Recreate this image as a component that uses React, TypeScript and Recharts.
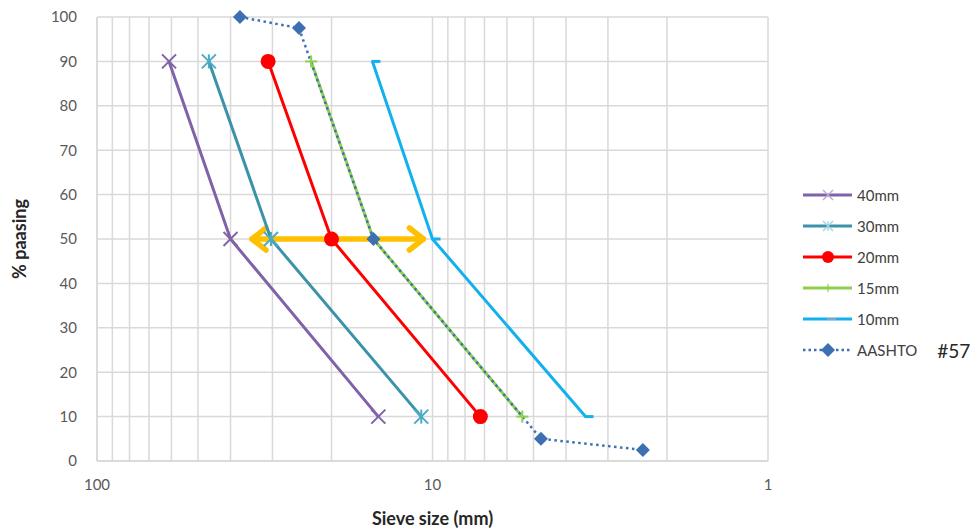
import React from 'react'
import { ComposedChart, Line, XAxis, YAxis, CartesianGrid, ReferenceLine } from 'recharts'

// sieve sizes (mm) and % passing
const sizes40 = [61, 40, 14.5]
const pass40 = [90, 50, 10]
const sizes30 = [46.4, 30.3, 10.8]
const pass30 = [90, 50, 10]
const sizes20 = [30.9, 20, 7.2]
const pass20 = [90, 50, 10]
const sizes15 = [23, 15, 5.4]
const pass15 = [90, 50, 10]
const sizes10 = [15.1, 10, 3.5]
const pass10 = [90, 50, 10]
const sizesAashto = [37.5, 25, 15, 4.75, 2.36]
const passAashto = [100, 97.5, 50, 5, 2.5]

// orange arrow: from ~35mm to ~10.5mm at 50% passing
const arrowSizes = [35, 10.5]
const arrowPass = 50

const xTicks = [1, 2, 3, 4, 5, 6, 7, 8, 9, 10, 20, 30, 40, 50, 60, 70, 80, 90, 100]
const yTicks = [0, 10, 20, 30, 40, 50, 60, 70, 80, 90, 100]

const toRows = (xs: number[], ys: number[]) => xs.map((x, i) => ({ x, y: ys[i] }))

type MarkerKind = 'x' | 'star' | 'circle' | 'plus' | 'dash' | 'diamond'

const series: { name: string; color: string; marker: MarkerKind; dashed?: boolean; data: { x: number; y: number }[] }[] = [
  { name: '40mm', color: '#7f62a8', marker: 'x', data: toRows(sizes40, pass40) },
  { name: '30mm', color: '#3a93a8', marker: 'star', data: toRows(sizes30, pass30) },
  { name: '20mm', color: '#ff0000', marker: 'circle', data: toRows(sizes20, pass20) },
  { name: '15mm', color: '#8fce4e', marker: 'plus', data: toRows(sizes15, pass15) },
  { name: '10mm', color: '#13b0ee', marker: 'dash', data: toRows(sizes10, pass10) },
  { name: 'AASHTO', color: '#3d6fb3', marker: 'diamond', dashed: true, data: toRows(sizesAashto, passAashto) },
]

function Marker({ kind, cx, cy, color, legend }: { kind: MarkerKind; cx: number; cy: number; color: string; legend?: boolean }) {
  const s = legend ? 5 : 7
  const sw = legend ? 1.2 : 2
  switch (kind) {
    case 'x':
      return (
        <g stroke={legend ? '#b7a6d0' : color} strokeWidth={sw}>
          <line x1={cx - s} y1={cy - s} x2={cx + s} y2={cy + s} />
          <line x1={cx - s} y1={cy + s} x2={cx + s} y2={cy - s} />
        </g>
      )
    case 'star':
      return (
        <g stroke={legend ? '#9fd3e0' : '#4aacc6'} strokeWidth={sw}>
          <line x1={cx - s} y1={cy - s} x2={cx + s} y2={cy + s} />
          <line x1={cx - s} y1={cy + s} x2={cx + s} y2={cy - s} />
          <line x1={cx} y1={cy - s} x2={cx} y2={cy + s} />
        </g>
      )
    case 'circle':
      return <circle cx={cx} cy={cy} r={legend ? 6 : 7.5} fill={color} />
    case 'plus':
      return (
        <g stroke={color} strokeWidth={sw}>
          <line x1={cx} y1={cy - s + 1} x2={cx} y2={cy + s - 1} />
          <line x1={cx - s + 1} y1={cy} x2={cx + s - 1} y2={cy} />
        </g>
      )
    case 'dash':
      return <line x1={cx - 1} y1={cy} x2={cx + 8} y2={cy} stroke={legend ? '#7fa7c0' : color} strokeWidth={legend ? 2 : 3} />
    case 'diamond':
      return <polygon points={`${cx},${cy - 7} ${cx + 7},${cy} ${cx},${cy + 7} ${cx - 7},${cy}`} fill={color} />
  }
  return null
}

function ArrowShape(props: any) {
  const { x1, y1, x2, y2 } = props
  const left = Math.min(x1, x2)
  const right = Math.max(x1, x2)
  const y = (y1 + y2) / 2
  const c = '#ffc000'
  return (
    <g stroke={c} strokeWidth={5.5} fill="none" strokeLinecap="round" strokeLinejoin="round">
      <line x1={left + 2} y1={y} x2={right - 2} y2={y} />
      <polyline points={`${left + 16},${y - 11} ${left + 2},${y} ${left + 16},${y + 11}`} />
      <polyline points={`${right - 16},${y - 11} ${right - 2},${y} ${right - 16},${y + 11}`} />
    </g>
  )
}

function ChartLegend() {
  return (
    <div style={{ position: 'absolute', left: 802, top: 183, fontFamily: 'Lato, sans-serif' }}>
      {series.map((s, i) => (
        <div key={s.name} style={{ position: 'absolute', top: i * 31, left: 0, height: 24, display: 'flex', alignItems: 'center', whiteSpace: 'nowrap' }}>
          <svg width={52} height={24}>
            <line x1={1} y1={12} x2={50} y2={12} stroke={s.color} strokeWidth={s.dashed ? 2.5 : 3} strokeDasharray={s.dashed ? '2.5 3' : undefined} />
            <Marker kind={s.marker} cx={26} cy={12} color={s.color} legend />
          </svg>
          <span style={{ fontSize: 15, color: '#404040', marginLeft: 3 }}>{s.name}</span>
          {s.dashed && <span style={{ fontSize: 19, color: '#262626', marginLeft: 20 }}>#57</span>}
        </div>
      ))}
    </div>
  )
}

export default function App() {
  const font = 'Lato, sans-serif'
  return (
    <div style={{ position: 'relative', width: 979, height: 531, background: '#fff' }}>
      <style>{'body{margin:0}'}</style>
      <ComposedChart width={979} height={531} margin={{ top: 17, right: 211, bottom: 0, left: 0 }}>
        <CartesianGrid stroke="#d9d9d9" strokeWidth={1.5} />
        <XAxis
          type="number"
          dataKey="x"
          scale="log"
          domain={[1, 100]}
          reversed
          allowDataOverflow
          ticks={xTicks}
          interval={0}
          tickFormatter={(v: number) => ([1, 10, 100].includes(v) ? String(v) : '')}
          tickLine={false}
          tickSize={0}
          tickMargin={18}
          axisLine={{ stroke: '#d9d9d9', strokeWidth: 1.5 }}
          tick={{ fill: '#595959', fontSize: 15, fontFamily: font }}
          height={70}
          label={{ value: 'Sieve size (mm)', position: 'insideBottom', offset: 6, fill: '#262626', fontSize: 18, fontWeight: 'bold', fontFamily: font }}
        />
        <YAxis
          type="number"
          dataKey="y"
          domain={[0, 100]}
          ticks={yTicks}
          interval={0}
          tickLine={false}
          tickSize={0}
          tickMargin={20}
          axisLine={{ stroke: '#d9d9d9', strokeWidth: 1.5 }}
          tick={{ fill: '#595959', fontSize: 15, fontFamily: font }}
          width={97}
          label={{ value: '% paasing', angle: -90, position: 'insideLeft', offset: 20, fill: '#262626', fontSize: 18, fontWeight: 'bold', fontFamily: font, style: { textAnchor: 'middle' } }}
        />
        <ReferenceLine
          segment={[{ x: arrowSizes[0], y: arrowPass }, { x: arrowSizes[1], y: arrowPass }]}
          shape={ArrowShape}
          ifOverflow="visible"
        />
        {series.map((s) => (
          <Line
            key={s.name}
            data={s.data}
            dataKey="y"
            name={s.name}
            type="linear"
            stroke={s.color}
            strokeWidth={s.dashed ? 2.5 : 3}
            strokeDasharray={s.dashed ? '2.5 3.5' : undefined}
            isAnimationActive={false}
            dot={(p: any) => <Marker key={`${s.name}-${p.index}`} kind={s.marker} cx={p.cx} cy={p.cy} color={s.color} />}
            activeDot={false}
          />
        ))}
      </ComposedChart>
      <ChartLegend />
    </div>
  )
}
